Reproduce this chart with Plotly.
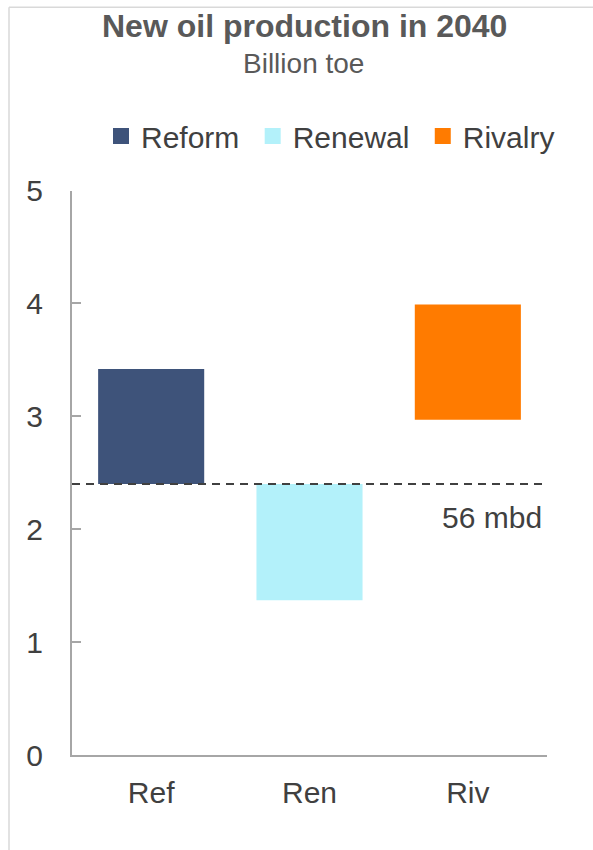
import plotly.graph_objects as go

# ---- data ----
categories = ["Ref", "Ren", "Riv"]
series_names = ["Reform", "Renewal", "Rivalry"]
low_values = [2.40, 1.37, 2.97]
high_values = [3.42, 2.40, 3.99]
baseline_value = 2.40
baseline_label = "56 mbd"
y_ticks = [0, 1, 2, 3, 4, 5]
colors = ["#3E537A", "#B3F1FA", "#FF7B00"]

W, H = 593, 850
ML, MR, MT, MB = 72, 46, 188, 95
PW, PH = W - ML - MR, H - MT - MB

def px_x(p):  # pixel -> paper fraction (x)
    return (p - ML) / PW

def px_y(p):  # pixel -> paper fraction (y)
    return (H - MB - p) / PH

FONT = "Arial, Liberation Sans, sans-serif"
TXT = "#404040"
AX = "#A6A6A6"

fig = go.Figure()
for cat, name, lo, hi, col in zip(categories, series_names, low_values, high_values, colors):
    fig.add_trace(go.Bar(
        x=[cat], y=[hi - lo], base=[lo], width=0.67,
        marker=dict(color=col, line=dict(width=0)),
        name=name, showlegend=False, hoverinfo="skip",
    ))
# legend entries (square markers); nbsp pads the spacing between entries
legend_pad = ["\u00a0", "\u00a0", ""]
for name, col, pad in zip(series_names, colors, legend_pad):
    fig.add_trace(go.Scatter(
        x=[None], y=[None], mode="markers", name=name + pad,
        marker=dict(symbol="square", size=16, color=col),
    ))

fig.add_shape(type="line", xref="paper", yref="y",
              x0=0, x1=px_x(543), y0=baseline_value, y1=baseline_value,
              line=dict(color="#404040", width=2, dash="8px,6px"))

fig.add_annotation(xref="paper", yref="y", x=px_x(544), y=2.10,
                   xanchor="right", yanchor="middle", showarrow=False,
                   text=baseline_label, font=dict(family=FONT, size=30, color=TXT))

# title & subtitle
fig.add_annotation(xref="paper", yref="paper", x=px_x(304), y=px_y(23),
                   xanchor="center", yanchor="middle", showarrow=False,
                   text="<b>New oil production in 2040</b>",
                   font=dict(family=FONT, size=32, color="#595959"))
fig.add_annotation(xref="paper", yref="paper", x=px_x(303), y=px_y(60),
                   xanchor="center", yanchor="middle", showarrow=False,
                   text="Billion toe",
                   font=dict(family=FONT, size=28, color="#595959"))

# outer frame (light border, cropped)
fig.add_shape(type="line", xref="paper", yref="paper",
              x0=px_x(9), x1=px_x(9), y0=px_y(4), y1=px_y(852),
              line=dict(color="#D9D9D9", width=1.5))
fig.add_shape(type="line", xref="paper", yref="paper",
              x0=px_x(9), x1=px_x(600), y0=px_y(4), y1=px_y(4),
              line=dict(color="#D9D9D9", width=1.5))

fig.update_layout(
    width=W, height=H,
    margin=dict(l=ML, r=MR, t=MT, b=MB, pad=0),
    paper_bgcolor="white", plot_bgcolor="white",
    barmode="overlay",
    font=dict(family=FONT, size=30, color=TXT),
    showlegend=True,
    legend=dict(orientation="h", xref="container", yref="container",
                x=101 / W, xanchor="left", y=1 - 136 / H, yanchor="middle",
                font=dict(family=FONT, size=30, color=TXT),
                itemwidth=30, bgcolor="rgba(0,0,0,0)", tracegroupgap=0),
    xaxis=dict(categoryorder="array", categoryarray=categories,
               range=[-0.5, 2.5], showline=True, linecolor=AX, linewidth=2,
               ticks="", showgrid=False, zeroline=False,
               tickfont=dict(family=FONT, size=30, color=TXT),
               ticklabelstandoff=10),
    yaxis=dict(range=[0, 5], tickvals=y_ticks, showline=True, linecolor=AX,
               linewidth=2, ticks="inside", ticklen=9, tickwidth=2, tickcolor=AX,
               showgrid=False, zeroline=False,
               tickfont=dict(family=FONT, size=30, color=TXT),
               ticklabelstandoff=21),
)

fig.write_html("out.html", config={"displayModeBar": False},
               post_script="document.body.style.margin='0';document.body.style.overflow='hidden';")
